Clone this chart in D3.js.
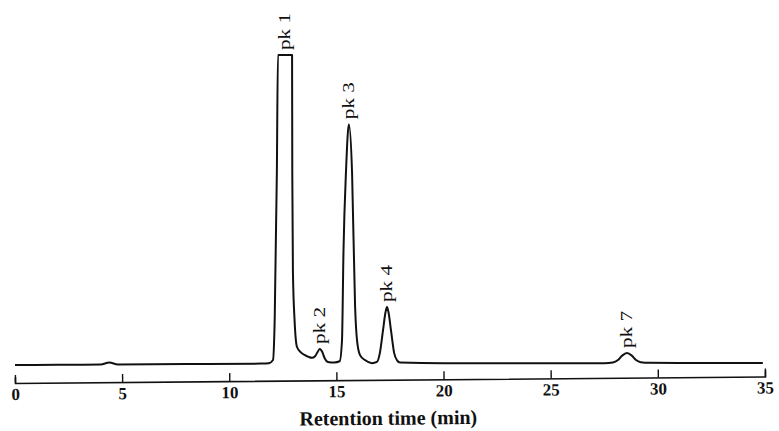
<!DOCTYPE html>
<html>
<head>
<meta charset="utf-8">
<script src="https://cdn.jsdelivr.net/npm/d3@7"></script>
<style>
  body { margin: 0; background: #fff; }
  svg { display: block; }
</style>
</head>
<body>
<script>
// retention time (min) and detector signal (arbitrary units, 100 = off scale)
var times = [0, 2, 4.0, 4.4, 4.8, 8, 11.5, 11.85, 12.04, 12.12, 12.22, 12.27, 12.6, 12.93, 12.94, 12.97, 13.05, 13.16, 13.35, 13.53, 13.7, 13.86, 14.0, 14.12, 14.23, 14.34, 14.45, 14.6, 14.9, 15.15, 15.26, 15.33, 15.45, 15.58, 15.73, 15.87, 15.96, 16.1, 16.33, 16.66, 16.89, 17.03, 17.17, 17.29, 17.36, 17.43, 17.55, 17.69, 17.83, 17.97, 20, 24, 27.5, 27.9, 28.14, 28.33, 28.56, 28.79, 28.98, 29.2, 29.6, 32, 34.9];
var signal = [0, 0.05, 0.15, 0.8, 0.2, 0.3, 0.45, 0.6, 1.6, 15, 62, 100, 100, 100, 62, 30, 14, 5.8, 4.0, 3.2, 2.6, 2.3, 2.8, 4.2, 5.2, 4.2, 2.2, 1.0, 0.8, 1.2, 8, 37, 63, 77.7, 62, 19, 8, 3.2, 1.6, 0.6, 1.0, 4, 11, 17, 18.7, 17, 11, 4, 1.5, 0.8, 0.6, 0.6, 0.6, 0.8, 1.6, 3, 3.9, 3, 1.6, 0.9, 0.7, 0.65, 0.65];

var peakNames = ["pk 1", "pk 2", "pk 3", "pk 4", "pk 7"];
var peakTimes = [12.6, 14.23, 15.58, 17.36, 28.56];
var peakHeights = [100, 5.2, 77.7, 18.7, 3.9];

var xTicks = [0, 5, 10, 15, 20, 25, 30, 35];
var xTitle = "Retention time (min)";

var W = 779, H = 431;
var margin = {top: 55, right: 14, bottom: 66, left: 15};

var x = d3.scaleLinear()
  .domain([0, 35])
  .range([margin.left, W - margin.right]);

var y = d3.scaleLinear()
  .domain([0, 100])
  .range([H - margin.bottom, margin.top]);

var svg = d3.select("body").append("svg")
  .attr("width", W)
  .attr("height", H);

var pts = times.map(function(t, i) { return {t: t, v: signal[i]}; });

var line = d3.line()
  .x(function(d) { return x(d.t); })
  .y(function(d) { return y(d.v); })
  .curve(d3.curveMonotoneX);

svg.append("path")
  .datum(pts)
  .attr("d", line)
  .attr("fill", "none")
  .attr("stroke", "#111")
  .attr("stroke-width", 2)
  .attr("stroke-linejoin", "round");

// peak labels, reading upward
svg.selectAll("text.pk")
  .data(peakNames)
  .enter().append("text")
  .attr("class", "pk")
  .attr("transform", function(d, i) {
    return "translate(" + (x(peakTimes[i]) + 5) + "," + (y(peakHeights[i]) - 5) + ") rotate(-90)";
  })
  .attr("font-family", "Liberation Serif, Times New Roman, serif")
  .attr("font-size", 17)
  .attr("fill", "#111")
  .attr("textLength", 37)
  .attr("lengthAdjust", "spacingAndGlyphs")
  .text(function(d) { return d; });

// axis (scan is slightly tilted)
var axisY = 383;
var axisG = svg.append("g")
  .attr("transform", "translate(0," + axisY + ") rotate(-0.5," + x(0) + ",0)");

axisG.call(d3.axisBottom(x)
    .tickValues(xTicks)
    .tickSizeInner(-8)
    .tickSizeOuter(-6)
    .tickPadding(5));

axisG.select(".domain").attr("stroke", "#111").attr("stroke-width", 1.6);
axisG.selectAll(".tick line").attr("stroke", "#111").attr("stroke-width", 1.4);
axisG.selectAll(".tick text")
  .attr("font-family", "Liberation Serif, Times New Roman, serif")
  .attr("font-size", 17)
  .attr("font-weight", "bold")
  .attr("fill", "#111");

axisG.append("text")
  .attr("x", 388)
  .attr("y", 45)
  .attr("text-anchor", "middle")
  .attr("font-family", "Liberation Serif, Times New Roman, serif")
  .attr("font-size", 20)
  .attr("font-weight", "bold")
  .attr("fill", "#111")
  .text(xTitle);
</script>
</body>
</html>
